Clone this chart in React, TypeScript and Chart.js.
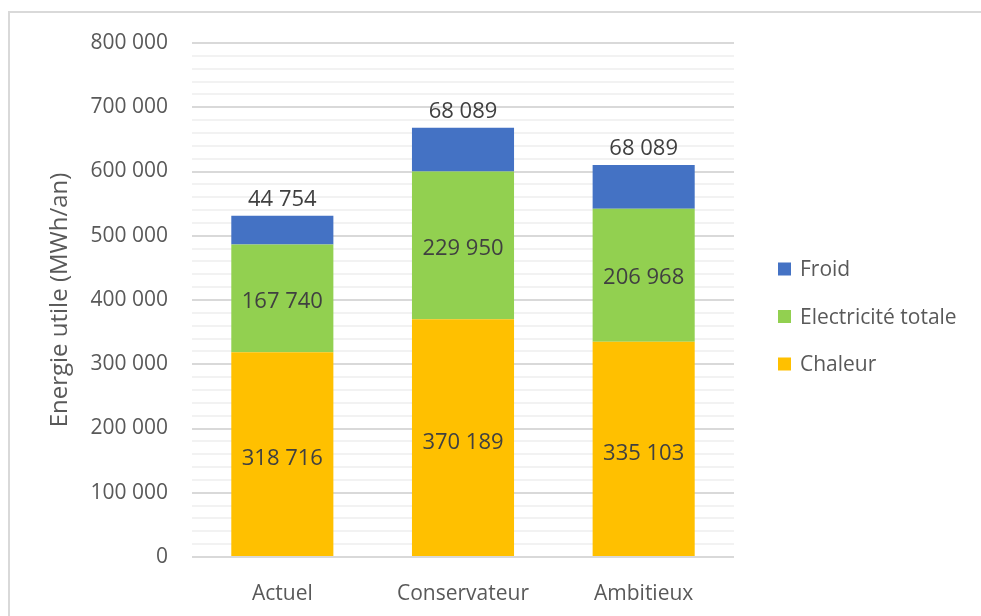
import React, { useEffect, useRef } from 'react';
import { Chart, registerables } from 'chart.js';

Chart.register(...registerables);

const categories = ['Actuel', 'Conservateur', 'Ambitieux'];
const chaleur = [318716, 370189, 335103];
const electricite = [167740, 229950, 206968];
const froid = [44754, 68089, 68089];
const seriesNames = ['Chaleur', 'Electricité totale', 'Froid'];
const seriesColors = ['#FFC000', '#92D050', '#4472C4'];
const yMax = 800000;
const yMinorStep = 20000;
const yMajorStep = 100000;
const yTitle = 'Energie utile (MWh/an)';

const FONT = "'Open Sans', 'Noto Sans', sans-serif";

const fmt = (n: number) => String(Math.round(n)).replace(/\B(?=(\d{3})+(?!\d))/g, ' ');

const labelPlugin = {
  id: 'valueLabels',
  afterDatasetsDraw(chart: any) {
    const ctx = chart.ctx;
    ctx.save();
    ctx.font = `22px ${FONT}`;
    ctx.fillStyle = '#404040';
    ctx.textAlign = 'center';
    chart.data.datasets.forEach((ds: any, i: number) => {
      const meta = chart.getDatasetMeta(i);
      meta.data.forEach((bar: any, j: number) => {
        const { x, y, base } = bar.getProps(['x', 'y', 'base'], true);
        const text = fmt(ds.data[j]);
        if (i === chart.data.datasets.length - 1) {
          ctx.textBaseline = 'bottom';
          ctx.fillText(text, x, y - 5);
        } else if (i === 0) {
          ctx.textBaseline = 'middle';
          ctx.fillText(text, x, (y + base) / 2 + 5);
        } else {
          ctx.textBaseline = 'middle';
          ctx.fillText(text, x, (y + base) / 2 + 3);
        }
      });
    });
    ctx.restore();
  },
};

const legendPlugin = {
  id: 'customLegend',
  afterDraw(chart: any) {
    const ctx = chart.ctx;
    const area = chart.chartArea;
    const x0 = area.right + 44;
    const cy = (area.top + area.bottom) / 2 + 16.5;
    const gap = 47.5;
    const items = chart.data.datasets.map((d: any) => ({ label: d.label, color: d.backgroundColor })).reverse();
    ctx.save();
    ctx.font = `21px ${FONT}`;
    ctx.textBaseline = 'middle';
    ctx.textAlign = 'left';
    items.forEach((it: any, k: number) => {
      const y = cy + (k - (items.length - 1) / 2) * gap;
      ctx.fillStyle = it.color;
      ctx.fillRect(x0, y - 6.5, 13, 13);
      ctx.fillStyle = '#595959';
      ctx.fillText(it.label, x0 + 22, y + 1.5);
    });
    ctx.restore();
  },
};

export default function App() {
  const ref = useRef<HTMLCanvasElement | null>(null);

  useEffect(() => {
    if (!ref.current) return;
    Chart.defaults.font.family = FONT;
    const values = [chaleur, electricite, froid];
    const chart = new Chart(ref.current, {
      type: 'bar',
      data: {
        labels: categories,
        datasets: values.map((v, i) => ({
          label: seriesNames[i],
          data: v,
          backgroundColor: seriesColors[i],
          borderWidth: 0,
          categoryPercentage: 1,
          barPercentage: 0.565,
        })),
      },
      options: {
        responsive: false,
        animation: false,
        devicePixelRatio: 1,
        layout: { padding: { top: 43, right: 247, left: 0, bottom: 0 } },
        plugins: {
          legend: { display: false },
          tooltip: { enabled: false },
        },
        scales: {
          x: {
            stacked: true,
            grid: { display: false },
            border: { display: false },
            ticks: { color: '#595959', font: { size: 21 }, padding: 16 },
            afterFit: (s: any) => { s.height = 59; },
          },
          y: {
            stacked: true,
            min: 0,
            max: yMax,
            border: { display: false },
            grid: {
              drawTicks: false,
              color: (c: any) => (c.tick && c.tick.value % yMajorStep === 0 ? '#d9d9d9' : '#f2f2f2'),
              lineWidth: 2,
            },
            ticks: {
              stepSize: yMinorStep,
              autoSkip: false,
              maxTicksLimit: 100,
              padding: 24,
              color: '#595959',
              font: { size: 21 },
              callback: (v: any) => (Number(v) % yMajorStep === 0 ? fmt(Number(v)) : ''),
            },
            title: {
              display: true,
              text: yTitle,
              color: '#595959',
              font: { size: 24 },
              padding: { top: 46, bottom: 0 },
            },
            afterFit: (s: any) => { s.width = 192; },
          },
        },
      },
      plugins: [labelPlugin, legendPlugin],
    });
    return () => chart.destroy();
  }, []);

  return (
    <div style={{ position: 'absolute', left: 0, top: 0, width: 981, height: 616, overflow: 'hidden', background: '#fff' }}>
      <div style={{ position: 'absolute', left: 8, top: 11, width: 980, height: 610, borderLeft: '2px solid #d9d9d9', borderTop: '2px solid #d9d9d9' }} />
      <canvas ref={ref} width={981} height={616} style={{ position: 'absolute', left: 0, top: 0 }} />
    </div>
  );
}
